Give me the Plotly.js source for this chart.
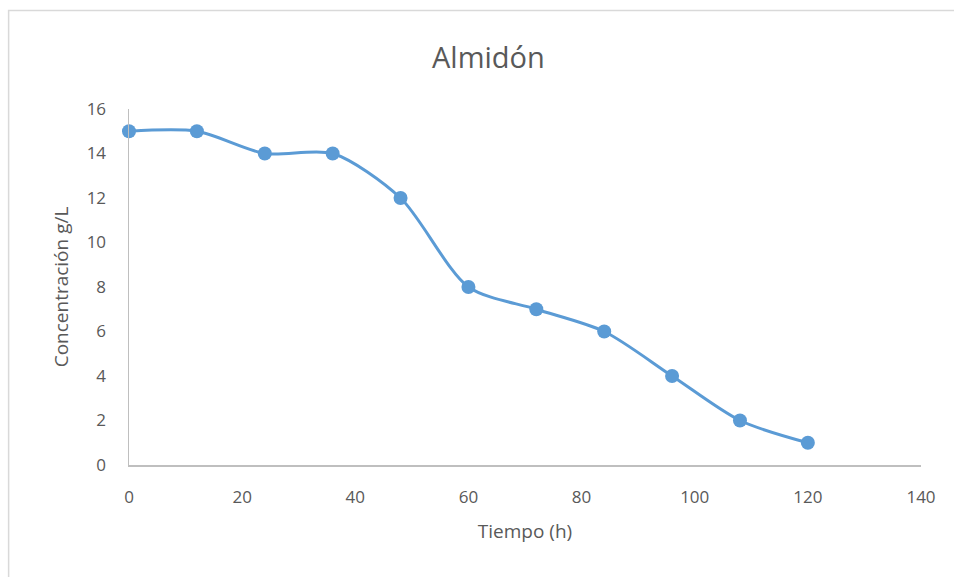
<!DOCTYPE html>
<html>
<head>
<meta charset="utf-8">
<script src="https://cdn.plot.ly/plotly-3.0.1.min.js"></script>
<style>html,body{margin:0;padding:0;background:#fff;}#chart{width:954px;height:577px;}</style>
</head>
<body>
<div id="chart"></div>
<script>
const tiempo = [0, 12, 24, 36, 48, 60, 72, 84, 96, 108, 120];
const concentracion = [15, 15, 14, 14, 12, 8, 7, 6, 4, 2, 1];
const titleText = "Almidón";
const xTitle = "Tiempo (h)";
const yTitle = "Concentración g/L";

const FONT = "Open Sans, Noto Sans, sans-serif";
const GRAY = "#595959";

const trace = {
  x: tiempo,
  y: concentracion,
  type: "scatter",
  mode: "lines+markers",
  line: {color: "#5B9BD5", width: 3, shape: "spline", smoothing: 0.8},
  marker: {color: "#5B9BD5", size: 14},
  showlegend: false,
  cliponaxis: false
};

const layout = {
  width: 954, height: 577,
  margin: {l: 129, r: 33, t: 109, b: 112},
  paper_bgcolor: "#fff", plot_bgcolor: "#fff",
  font: {family: FONT, color: GRAY, size: 17},
  title: {text: titleText, font: {family: FONT, size: 29, color: GRAY}, x: 0.512, xanchor: "center", y: 0.9, yanchor: "middle"},
  xaxis: {
    range: [0, 140], dtick: 20, tick0: 0,
    showgrid: false, zeroline: false,
    showline: true, linecolor: "#BFBFBF", linewidth: 1.5,
    ticks: "", ticklen: 0, ticklabelstandoff: 16,
    tickfont: {family: FONT, size: 17, color: GRAY},
    title: {text: xTitle, font: {family: FONT, size: 19, color: GRAY}, standoff: 18}
  },
  yaxis: {
    range: [0, 16], dtick: 2, tick0: 0,
    showgrid: false, zeroline: false,
    showline: true, linecolor: "#BFBFBF", linewidth: 1.5,
    ticks: "", ticklen: 0, ticklabelstandoff: 18,
    tickfont: {family: FONT, size: 17, color: GRAY},
    title: {text: yTitle, font: {family: FONT, size: 19, color: GRAY}, standoff: 13}
  },
  shapes: [{
    type: "rect", xref: "paper", yref: "paper",
    x0: -0.152, x1: 1.2, y0: -0.5, y1: 1.277,
    line: {color: "#D9D9D9", width: 1.5}, fillcolor: "rgba(0,0,0,0)", layer: "below"
  }]
};

Plotly.newPlot("chart", [trace], layout, {displayModeBar: false, staticPlot: true});
</script>
</body>
</html>
